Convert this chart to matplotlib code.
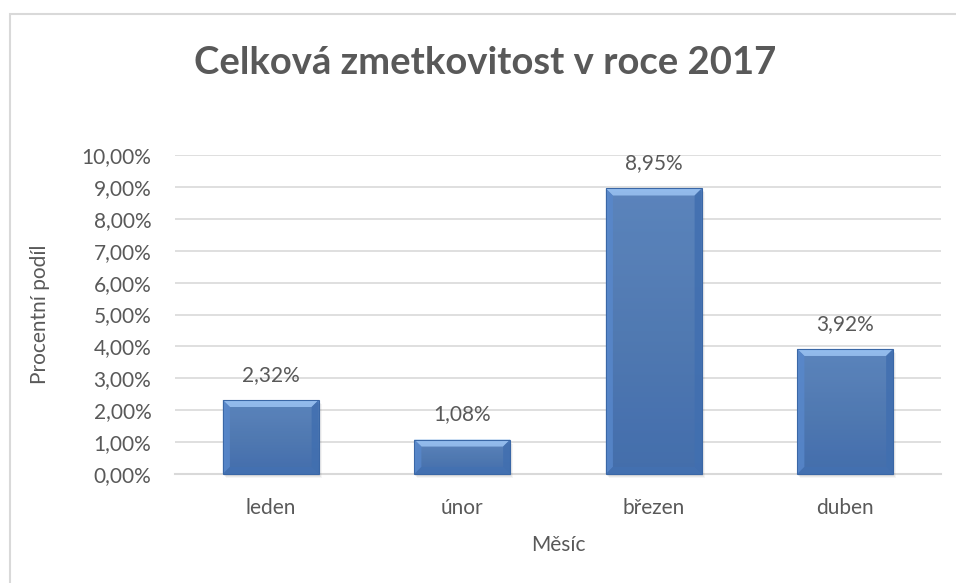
import matplotlib
matplotlib.use("Agg")
import matplotlib.pyplot as plt
import numpy as np
from matplotlib.patches import Polygon, Rectangle
from matplotlib.ticker import FuncFormatter
from matplotlib.colors import LinearSegmentedColormap

months = ["leden", "únor", "březen", "duben"]
values = [2.32, 1.08, 8.95, 3.92]
value_labels = ["2,32%", "1,08%", "8,95%", "3,92%"]
title = "Celková zmetkovitost v roce 2017"
xlabel = "Měsíc"
ylabel = "Procentní podíl"

plt.rcParams['font.family'] = ['Lato', 'DejaVu Sans']
TXT = "#595959"
FS = 15

W, H = 956, 583
fig = plt.figure(figsize=(W / 100, H / 100), dpi=100)
fig.patch.set_facecolor("white")

# outer chart frame (only top/left visible)
fig.add_artist(Rectangle((10 / W, -0.1), 1.2, (H - 14) / H + 0.1, transform=fig.transFigure,
                         fill=False, edgecolor="#d9d9d9", linewidth=1.5))

left, right, top, bottom = 175, 941, 155, 474
ax = fig.add_axes([left / W, 1 - bottom / H, (right - left) / W, (bottom - top) / H])
x = np.arange(len(months))
ax.set_xlim(-0.5, len(months) - 0.5)
ax.set_ylim(0, 10)
ax.set_yticks(np.arange(0, 11, 1))
ax.yaxis.set_major_formatter(FuncFormatter(lambda v, p: f"{v:.2f}".replace(".", ",") + "%"))
ax.grid(axis="y", color="#d9d9d9", linewidth=1.2)
ax.set_axisbelow(True)
for s in ["top", "right", "left"]:
    ax.spines[s].set_visible(False)
ax.spines["bottom"].set_color("#d9d9d9")
ax.spines["bottom"].set_linewidth(1.5)
ax.tick_params(axis="both", length=0, labelsize=FS, colors=TXT)
ax.tick_params(axis="y", pad=17)
ax.tick_params(axis="x", pad=17)
ax.set_xticks(x)
ax.set_xticklabels(months)
ax.set_xlabel(xlabel, fontsize=FS, color=TXT)
ax.set_ylabel(ylabel, fontsize=FS, color=TXT, va="center")
ax.xaxis.set_label_coords((558 - left) / (right - left), -(545 - bottom) / (bottom - top))
ax.xaxis.label.set_va("center")
ax.yaxis.set_label_coords((40 - left) / (right - left), 0.5)

bars = ax.bar(x, values, width=0.5, color="#5a8bcf", zorder=2)

fig.canvas.draw()
grad = np.linspace(0, 1, 256).reshape(-1, 1)
cmap = LinearSegmentedColormap.from_list("g", ["#6d9cdc", "#5182c8"])
for b in bars:
    bb = b.get_window_extent()
    x0, y0, x1, y1 = bb.x0, bb.y0, bb.x1, bb.y1
    # soft shadow
    for k, a in ((4, 0.04), (3, 0.05), (2, 0.06)):
        fig.add_artist(Rectangle((x0 + k - 1, y0 - k), x1 - x0, y1 - y0, transform=None,
                                 facecolor="#000000", alpha=a, edgecolor="none", zorder=1))
    im = ax.imshow(grad, extent=(b.get_x(), b.get_x() + b.get_width(), 0, b.get_height()),
                   aspect="auto", cmap=cmap, origin="upper", zorder=3)
    im.set_clip_path(b)
    d = 7
    polys = [
        ([(x0, y1), (x1, y1), (x1 - d, y1 - d), (x0 + d, y1 - d)], "#98c0f0", 0.9),
        ([(x0, y0), (x0, y1), (x0 + d, y1 - d), (x0 + d, y0 + d)], "#5888cc", 0.8),
        ([(x1, y0), (x1, y1), (x1 - d, y1 - d), (x1 - d, y0 + d)], "#416fb0", 0.85),
        ([(x0, y0), (x1, y0), (x1 - d, y0 + d), (x0 + d, y0 + d)], "#4371b2", 0.85),
    ]
    for pts, c, a in polys:
        fig.add_artist(Polygon(pts, closed=True, transform=None, facecolor=c,
                               edgecolor="none", alpha=a, zorder=4))
    fig.add_artist(Rectangle((x0, y0), x1 - x0, y1 - y0, transform=None, fill=False,
                             edgecolor="#3a67a6", linewidth=0.8, zorder=5))
ax.set_ylim(0, 10)
ax.set_xlim(-0.5, len(months) - 0.5)

for xi, v, lab in zip(x, values, value_labels):
    ax.annotate(lab, (xi, v), xytext=(0, 11), textcoords="offset points",
                ha="center", va="bottom", fontsize=FS, color=TXT, zorder=5)

fig.text(485 / W, 1 - 63 / H, title, ha="center", va="center", fontsize=27.5,
         fontweight="bold", color=TXT)

fig.savefig("out.png", dpi=100, facecolor="white")
